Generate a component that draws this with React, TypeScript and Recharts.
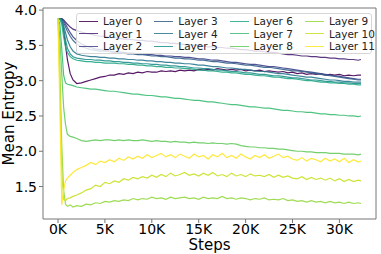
import { LineChart, Line, XAxis, YAxis, Legend, ReferenceArea } from "recharts"

const FONT = "'DejaVu Sans', sans-serif"

const steps = [
  0, 200, 400, 600, 800, 1000, 1300, 1600, 2000, 2500, 3000,
  3500, 4000, 4500, 5000, 5500, 6000, 6500, 7000, 7500, 8000,
  8500, 9000, 9500, 10000, 10500, 11000, 11500, 12000, 12500, 13000,
  13500, 14000, 14500, 15000, 15500, 16000, 16500, 17000, 17500, 18000,
  18500, 19000, 19500, 20000, 20500, 21000, 21500, 22000, 22500, 23000,
  23500, 24000, 24500, 25000, 25500, 26000, 26500, 27000, 27500, 28000,
  28500, 29000, 29500, 30000, 30500, 31000, 31500, 32000,
  32300,
]

const layer0 = [
  3.88, 3.88, 3.87, 3.72, 3.5, 3.3, 3.1, 3.01, 2.96, 2.97, 2.99,
  3.01, 3.03, 3.05, 3.06, 3.08, 3.08, 3.1, 3.09, 3.11, 3.1,
  3.12, 3.11, 3.13, 3.12, 3.12, 3.14, 3.13, 3.14, 3.13, 3.15,
  3.14, 3.15, 3.14, 3.16, 3.15, 3.16, 3.15, 3.17, 3.16, 3.15,
  3.16, 3.15, 3.16, 3.14, 3.15, 3.14, 3.15, 3.13, 3.14, 3.13,
  3.12, 3.13, 3.11, 3.12, 3.1, 3.11, 3.09, 3.1, 3.09, 3.1,
  3.08, 3.09, 3.08, 3.09, 3.07, 3.08, 3.07, 3.08,
  3.08,
]
const layer1 = [
  3.88, 3.88, 3.88, 3.86, 3.83, 3.8, 3.76, 3.73, 3.71, 3.69, 3.67,
  3.66, 3.64, 3.63, 3.63, 3.61, 3.61, 3.6, 3.59, 3.59, 3.58,
  3.57, 3.57, 3.56, 3.56, 3.55, 3.54, 3.54, 3.53, 3.53, 3.52,
  3.51, 3.51, 3.5, 3.5, 3.49, 3.48, 3.48, 3.47, 3.47, 3.46,
  3.46, 3.45, 3.44, 3.44, 3.43, 3.42, 3.42, 3.41, 3.4, 3.4,
  3.39, 3.38, 3.37, 3.37, 3.36, 3.35, 3.35, 3.34, 3.34, 3.33,
  3.33, 3.32, 3.32, 3.31, 3.31, 3.3, 3.3, 3.29,
  3.3,
]
const layer2 = [
  3.88, 3.88, 3.88, 3.85, 3.8, 3.75, 3.68, 3.62, 3.57, 3.52, 3.49,
  3.47, 3.45, 3.44, 3.43, 3.42, 3.41, 3.41, 3.4, 3.39, 3.39,
  3.38, 3.38, 3.37, 3.37, 3.36, 3.36, 3.35, 3.35, 3.34, 3.34,
  3.33, 3.33, 3.32, 3.31, 3.31, 3.3, 3.29, 3.29, 3.28, 3.27,
  3.26, 3.26, 3.25, 3.24, 3.23, 3.23, 3.22, 3.21, 3.2, 3.2,
  3.19, 3.18, 3.17, 3.16, 3.15, 3.14, 3.13, 3.12, 3.11, 3.1,
  3.09, 3.08, 3.07, 3.06, 3.05, 3.04, 3.03, 3.02,
  3.02,
]
const layer3 = [
  3.88, 3.88, 3.87, 3.82, 3.76, 3.7, 3.63, 3.57, 3.52, 3.48, 3.46,
  3.44, 3.43, 3.42, 3.42, 3.41, 3.4, 3.4, 3.39, 3.38, 3.38,
  3.37, 3.37, 3.36, 3.35, 3.35, 3.34, 3.34, 3.33, 3.32, 3.32,
  3.31, 3.31, 3.3, 3.29, 3.29, 3.28, 3.27, 3.27, 3.26, 3.25,
  3.25, 3.24, 3.23, 3.22, 3.22, 3.21, 3.2, 3.19, 3.19, 3.18,
  3.17, 3.16, 3.15, 3.14, 3.14, 3.13, 3.12, 3.11, 3.1, 3.09,
  3.08, 3.07, 3.06, 3.05, 3.04, 3.03, 3.02, 3.01,
  3.01,
]
const layer4 = [
  3.88, 3.88, 3.86, 3.78, 3.68, 3.58, 3.48, 3.42, 3.38, 3.36, 3.35,
  3.34, 3.34, 3.33, 3.33, 3.32, 3.32, 3.31, 3.31, 3.3, 3.3,
  3.29, 3.29, 3.28, 3.28, 3.27, 3.27, 3.26, 3.26, 3.25, 3.25,
  3.24, 3.24, 3.23, 3.22, 3.22, 3.21, 3.2, 3.2, 3.19, 3.18,
  3.18, 3.17, 3.16, 3.16, 3.15, 3.14, 3.13, 3.13, 3.12, 3.11,
  3.1, 3.1, 3.09, 3.08, 3.07, 3.06, 3.05, 3.05, 3.04, 3.03,
  3.02, 3.01, 3.01, 3.0, 2.99, 2.99, 2.98, 2.98,
  2.98,
]
const layer5 = [
  3.88, 3.88, 3.84, 3.72, 3.58, 3.46, 3.38, 3.34, 3.32, 3.31, 3.3,
  3.3, 3.29, 3.29, 3.28, 3.28, 3.27, 3.27, 3.26, 3.26, 3.25,
  3.25, 3.24, 3.24, 3.23, 3.23, 3.22, 3.22, 3.21, 3.21, 3.2,
  3.2, 3.19, 3.18, 3.18, 3.17, 3.17, 3.16, 3.15, 3.15, 3.14,
  3.13, 3.13, 3.12, 3.11, 3.11, 3.1, 3.09, 3.09, 3.08, 3.07,
  3.07, 3.06, 3.05, 3.04, 3.04, 3.03, 3.02, 3.01, 3.01, 3.0,
  2.99, 2.99, 2.98, 2.98, 2.97, 2.97, 2.96, 2.96,
  2.96,
]
const layer6 = [
  3.88, 3.87, 3.8, 3.62, 3.48, 3.4, 3.34, 3.31, 3.29, 3.28, 3.27,
  3.27, 3.26, 3.26, 3.25, 3.25, 3.25, 3.24, 3.24, 3.23, 3.23,
  3.22, 3.22, 3.21, 3.21, 3.2, 3.2, 3.19, 3.19, 3.18, 3.18,
  3.17, 3.17, 3.16, 3.15, 3.15, 3.14, 3.14, 3.13, 3.12, 3.12,
  3.11, 3.11, 3.1, 3.09, 3.09, 3.08, 3.07, 3.07, 3.06, 3.05,
  3.05, 3.04, 3.03, 3.03, 3.02, 3.01, 3.0, 3.0, 2.99, 2.98,
  2.98, 2.97, 2.97, 2.96, 2.96, 2.95, 2.95, 2.94,
  2.94,
]
const layer7 = [
  3.88, 3.8, 3.45, 3.08, 2.97, 2.95, 2.94, 2.93, 2.91, 2.9, 2.89,
  2.88, 2.88, 2.87, 2.86, 2.85, 2.85, 2.84, 2.83, 2.82, 2.81,
  2.81, 2.8, 2.79, 2.79, 2.78, 2.77, 2.77, 2.76, 2.75, 2.75,
  2.74, 2.73, 2.72, 2.72, 2.71, 2.7, 2.7, 2.69, 2.68, 2.67,
  2.66, 2.66, 2.65, 2.64, 2.63, 2.63, 2.62, 2.61, 2.61, 2.6,
  2.59, 2.58, 2.58, 2.57, 2.56, 2.56, 2.55, 2.55, 2.54, 2.53,
  2.53, 2.52, 2.52, 2.51, 2.51, 2.5, 2.5, 2.49,
  2.5,
]
const layer8 = [
  3.88, 3.6, 3.1, 2.62, 2.38, 2.24, 2.21, 2.2, 2.18, 2.15, 2.14,
  2.15, 2.16, 2.15, 2.16, 2.16, 2.15, 2.16, 2.15, 2.16, 2.15,
  2.15, 2.16, 2.15, 2.14, 2.15, 2.14, 2.14, 2.13, 2.14, 2.13,
  2.13, 2.12, 2.13, 2.12, 2.12, 2.11, 2.12, 2.11, 2.11, 2.1,
  2.11, 2.1, 2.08, 2.07, 2.06, 2.06, 2.05, 2.05, 2.04, 2.04,
  2.03, 2.03, 2.02, 2.01, 2.0, 2.0, 1.99, 1.99, 1.98, 1.98,
  1.98, 1.97, 1.97, 1.97, 1.96, 1.96, 1.96, 1.95,
  1.96,
]
const layer9 = [
  3.88, 3.2, 2.1, 1.45, 1.25, 1.22, 1.24, 1.21, 1.23, 1.22, 1.25,
  1.24, 1.27, 1.26, 1.29, 1.28, 1.3, 1.29, 1.31, 1.3, 1.33,
  1.31, 1.33, 1.32, 1.35, 1.33, 1.34, 1.32, 1.35, 1.33, 1.34,
  1.35, 1.33, 1.34, 1.32, 1.35, 1.33, 1.34, 1.33, 1.36, 1.33,
  1.34, 1.32, 1.34, 1.33, 1.31, 1.33, 1.32, 1.34, 1.31, 1.32,
  1.31, 1.33, 1.3, 1.31, 1.29, 1.3, 1.28, 1.3, 1.28, 1.29,
  1.27, 1.29, 1.27, 1.28, 1.26, 1.28, 1.26, 1.27,
  1.26,
]
const layer10 = [
  3.88, 2.9, 1.7, 1.32, 1.3, 1.33, 1.34, 1.36, 1.38, 1.41, 1.45,
  1.47, 1.52, 1.5, 1.56, 1.54, 1.58, 1.56, 1.61, 1.59, 1.63,
  1.61, 1.64, 1.62, 1.66, 1.63, 1.67, 1.64, 1.69, 1.65, 1.67,
  1.7, 1.66, 1.68, 1.65, 1.69, 1.66, 1.7, 1.65, 1.67, 1.64,
  1.69, 1.65, 1.67, 1.64, 1.68, 1.65, 1.66, 1.64, 1.67, 1.63,
  1.66, 1.63, 1.65, 1.62, 1.61, 1.64, 1.6, 1.63, 1.6, 1.62,
  1.59, 1.62, 1.58, 1.61, 1.57, 1.6, 1.57, 1.59,
  1.58,
]
const layer11 = [
  3.88, 2.6, 1.24, 1.45, 1.58, 1.62, 1.66, 1.7, 1.74, 1.77, 1.8,
  1.84, 1.81, 1.86, 1.84, 1.88, 1.85, 1.9, 1.87, 1.92, 1.89,
  1.93, 1.9, 1.95, 1.91, 1.94, 1.97, 1.92, 1.95, 1.91, 1.96,
  1.93, 1.9, 1.96, 1.92, 1.94, 1.89, 1.95, 1.92, 1.97, 1.91,
  1.94, 1.9, 1.96, 1.92, 1.89, 1.94, 1.91, 1.95, 1.9, 1.93,
  1.96, 1.91, 1.93, 1.89, 1.87, 1.91, 1.86, 1.9, 1.88, 1.85,
  1.9, 1.86, 1.89, 1.85, 1.9, 1.84, 1.88, 1.85,
  1.86,
]

const layers = [layer0, layer1, layer2, layer3, layer4, layer5, layer6, layer7, layer8, layer9, layer10, layer11]
const layerNames = [
  "Layer 0", "Layer 1", "Layer 2", "Layer 3", "Layer 4", "Layer 5",
  "Layer 6", "Layer 7", "Layer 8", "Layer 9", "Layer 10", "Layer 11",
]
// viridis, 12 steps
const colors = [
  "#440154", "#482374", "#404387", "#345f8d", "#29788e", "#20908d",
  "#22a785", "#3dbc74", "#65cb5e", "#95d840", "#c9e020", "#fde725",
]

const xTicks = [0, 5000, 10000, 15000, 20000, 25000, 30000]
const yTicks = [1.5, 2.0, 2.5, 3.0, 3.5, 4.0]

const X_DOMAIN: [number, number] = [-1600, 33900]
const Y_DOMAIN: [number, number] = [1.04, 4.03]

const data = steps.map((s, i) => {
  const row: Record<string, number> = { step: s }
  layers.forEach((arr, j) => {
    row[`l${j}`] = arr[i]
  })
  return row
})

function LegendBox() {
  return (
    <div
      style={{
        boxSizing: "border-box",
        width: 296,
        height: 41,
        border: "1px solid #d6d6d6",
        borderRadius: 3,
        background: "rgba(255,255,255,0.8)",
        padding: "1px 0 0 2px",
        display: "grid",
        gridTemplateRows: "repeat(3, 12.5px)",
        gridAutoFlow: "column",
        gridAutoColumns: "75.3px",
        fontFamily: FONT,
        fontSize: 10.5,
        color: "#222",
        lineHeight: "12.5px",
      }}
    >
      {layerNames.map((n, i) => (
        <div key={n} style={{ display: "flex", alignItems: "center", whiteSpace: "nowrap" }}>
          <span
            style={{
              display: "inline-block",
              width: 19,
              height: 0,
              borderTop: `1.5px solid ${colors[i]}`,
              marginRight: 5,
              opacity: 0.85,
            }}
          />
          {n}
        </div>
      ))}
    </div>
  )
}

export default function App() {
  return (
    <div style={{ position: "absolute", left: 0, top: 0, background: "#fff" }}>
      <LineChart
        width={381}
        height={254}
        data={data}
        margin={{ top: 8, right: 5, bottom: 0, left: 0 }}
        style={{ fontFamily: FONT }}
      >
        <XAxis
          dataKey="step"
          type="number"
          domain={X_DOMAIN}
          ticks={xTicks}
          allowDataOverflow
          tickFormatter={(v: number) => `${v / 1000}K`}
          tick={{ fontSize: 14, fill: "#000" }}
          tickSize={4}
          tickMargin={1}
          tickLine={{ stroke: "#777" }}
          axisLine={false}
          height={35}
          label={{ value: "Steps", position: "insideBottom", offset: 4, fontSize: 15, fill: "#000" }}
        />
        <YAxis
          type="number"
          domain={Y_DOMAIN}
          ticks={yTicks}
          allowDataOverflow
          tickFormatter={(v: number) => v.toFixed(1)}
          tick={{ fontSize: 14, fill: "#000" }}
          tickSize={4}
          tickMargin={2}
          tickLine={{ stroke: "#777" }}
          axisLine={false}
          width={43}
          label={{
            value: "Mean Entropy",
            angle: -90,
            position: "insideLeft",
            offset: 9,
            fontSize: 15,
            fill: "#000",
            style: { textAnchor: "middle" },
          }}
        />
        <ReferenceArea
          x1={X_DOMAIN[0]}
          x2={X_DOMAIN[1]}
          y1={Y_DOMAIN[0]}
          y2={Y_DOMAIN[1]}
          fill="none"
          stroke="#777"
          strokeWidth={1}
        />
        {layerNames.map((n, i) => (
          <Line
            key={n}
            type="linear"
            dataKey={`l${i}`}
            name={n}
            stroke={colors[i]}
            strokeWidth={1.2}
            strokeOpacity={0.9}
            dot={false}
            isAnimationActive={false}
          />
        ))}
        <Legend
          layout="horizontal"
          verticalAlign="middle"
          align="center"
          content={<LegendBox />}
          wrapperStyle={{ top: 13, left: 76, width: 296, height: 41 }}
        />
      </LineChart>
    </div>
  )
}
